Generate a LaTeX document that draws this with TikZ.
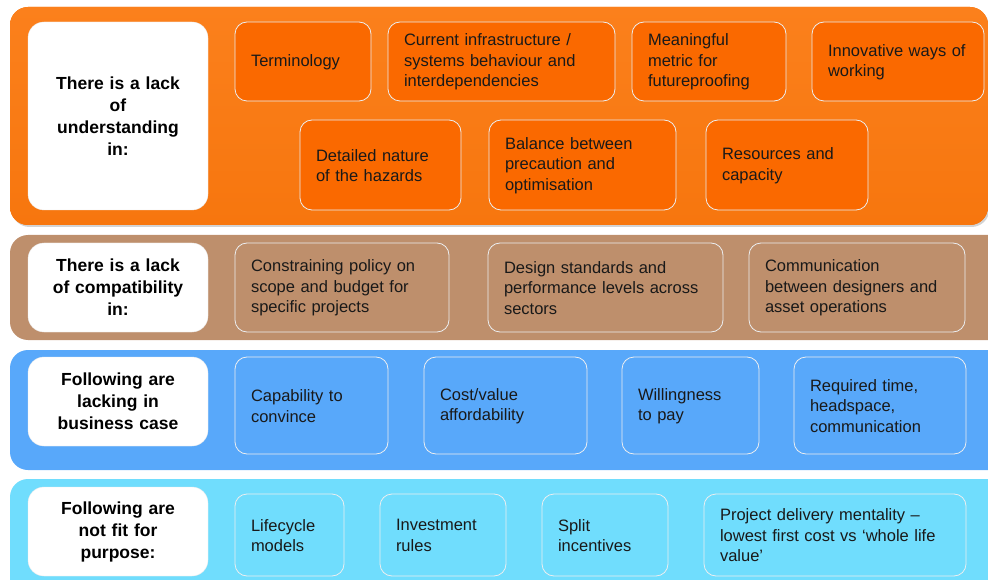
\documentclass[tikz,border=0pt]{standalone}
\usepackage{fontspec}
\setmainfont{Liberation Sans}
\usetikzlibrary{shadows}
\definecolor{bandOrange}{RGB}{247,118,14}
\definecolor{bandOrangeTop}{RGB}{251,128,28}
\definecolor{boxOrange}{RGB}{250,105,0}
\definecolor{bandBrown}{RGB}{190,143,108}
\definecolor{bandBlue}{RGB}{88,168,250}
\definecolor{bandCyan}{RGB}{112,221,253}
\definecolor{edgeWhite}{RGB}{236,238,240}
\newcommand{\fillBand}[1]{\draw[draw=none, fill=#1, rounded corners=18pt]}
% box from (left,top) to (right,bottom), text set flush left
\newcommand{\itemBox}[7]{%
  \pgfmathsetmacro{\boxW}{#5-#3}%
  \pgfmathsetmacro{\boxH}{#6-#4}%
  \pgfmathsetmacro{\textW}{#5-#3-32}%
  \node[itembox, fill=#2, minimum width=\boxW pt, minimum height=\boxH pt, text width=\textW pt]
    (#1) at ({(#3+#5)/2},{(#4+#6)/2}) {#7\par\vspace*{-1pt}};}
\newcommand{\labelBox}[6]{%
  \pgfmathsetmacro{\boxW}{#4-#2}%
  \pgfmathsetmacro{\boxH}{#5-#3}%
  \node[labelbox, minimum width=\boxW pt, minimum height=\boxH pt]
    (#1) at ({(#2+#4)/2},{(#3+#5)/2}) {#6};}
\tikzset{
  itembox/.style={draw=edgeWhite, line width=0.8pt, rounded corners=12pt, align=left,
    inner xsep=16pt, inner ysep=0pt, text=black!90, font=\fontsize{16.5}{20.5}\selectfont},
  labelbox/.style={fill=white, draw=gray!15, rounded corners=16pt, align=center,
    text width=150pt, inner xsep=15pt, inner ysep=0pt, font=\fontsize{17.5}{22}\selectfont\bfseries}
}

\begin{document}
\begin{tikzpicture}[x=1pt,y=-1pt]

      \useasboundingbox (0,0) rectangle (988,580);
      \clip (0,0) rectangle (988,580);

      % Four bands, one per kind of barrier
      \fillBand{bandOrange} [top color=bandOrangeTop, bottom color=bandOrange,
        drop shadow={opacity=0.35, shadow xshift=1.5pt, shadow yshift=-2pt}]
        (10,7) rectangle (988,225);
      \fillBand{bandBrown} (10,235) rectangle (1010,340);
      \fillBand{bandBlue} (10,350) rectangle (1010,470);
      \fillBand{bandCyan} (10,479) rectangle (1010,610);

      % Headings on the left
      \labelBox{understanding}{28}{22}{208}{210}{There is a lack\\ of\\ understanding\\ in:}
      \labelBox{compatibility}{28}{243}{208}{332}{There is a lack\\ of compatibility\\ in:}
      \labelBox{business}{28}{357}{208}{446}{Following are\\ lacking in\\ business case}
      \labelBox{purpose}{28}{487}{208}{576}{Following are\\ not fit for\\ purpose:}

      %% Lack of understanding, two rows
      \itemBox{terminology}{boxOrange}{235}{22}{371}{101}{Terminology}
      \itemBox{infrastructure}{boxOrange}{388}{22}{615}{101}{Current infrastructure /\\ systems behaviour and\\ interdependencies}
      \itemBox{metric}{boxOrange}{632}{22}{786}{101}{Meaningful\\ metric for\\ futureproofing}
      \itemBox{innovative}{boxOrange}{812}{22}{984}{101}{Innovative ways of\\ working}

      \itemBox{hazards}{boxOrange}{300}{120}{461}{210}{Detailed nature\\ of the hazards}
      \itemBox{balance}{boxOrange}{489}{120}{676}{210}{Balance between\\ precaution and\\ optimisation}
      \itemBox{resources}{boxOrange}{706}{120}{868}{210}{Resources and\\ capacity}

      %% Lack of compatibility
      \itemBox{policy}{bandBrown}{235}{243}{449}{332}{Constraining policy on\\ scope and budget for\\ specific projects}
      \itemBox{standards}{bandBrown}{488}{243}{723}{332}{Design standards and\\ performance levels across\\ sectors}
      \itemBox{communication}{bandBrown}{749}{243}{965}{332}{Communication\\ between designers  and\\ asset operations}

      %% Business case
      \itemBox{convince}{bandBlue}{235}{357}{388}{454}{Capability to\\ convince}
      \itemBox{affordability}{bandBlue}{424}{357}{587}{454}{Cost/value\\ affordability}
      \itemBox{willingness}{bandBlue}{622}{357}{759}{454}{Willingness\\ to pay}
      \itemBox{headspace}{bandBlue}{794}{357}{966}{454}{Required time,\\ headspace,\\ communication}

      %% Not fit for purpose
      \itemBox{lifecycle}{bandCyan}{235}{494}{344}{576}{Lifecycle\\ models}
      \itemBox{investment}{bandCyan}{380}{494}{506}{576}{Investment\\ rules}
      \itemBox{incentives}{bandCyan}{542}{494}{668}{576}{Split\\ incentives}
      \itemBox{delivery}{bandCyan}{704}{494}{966}{576}{Project delivery mentality --\\ lowest first cost vs `whole life\\ value'}

\end{tikzpicture}
\end{document}
